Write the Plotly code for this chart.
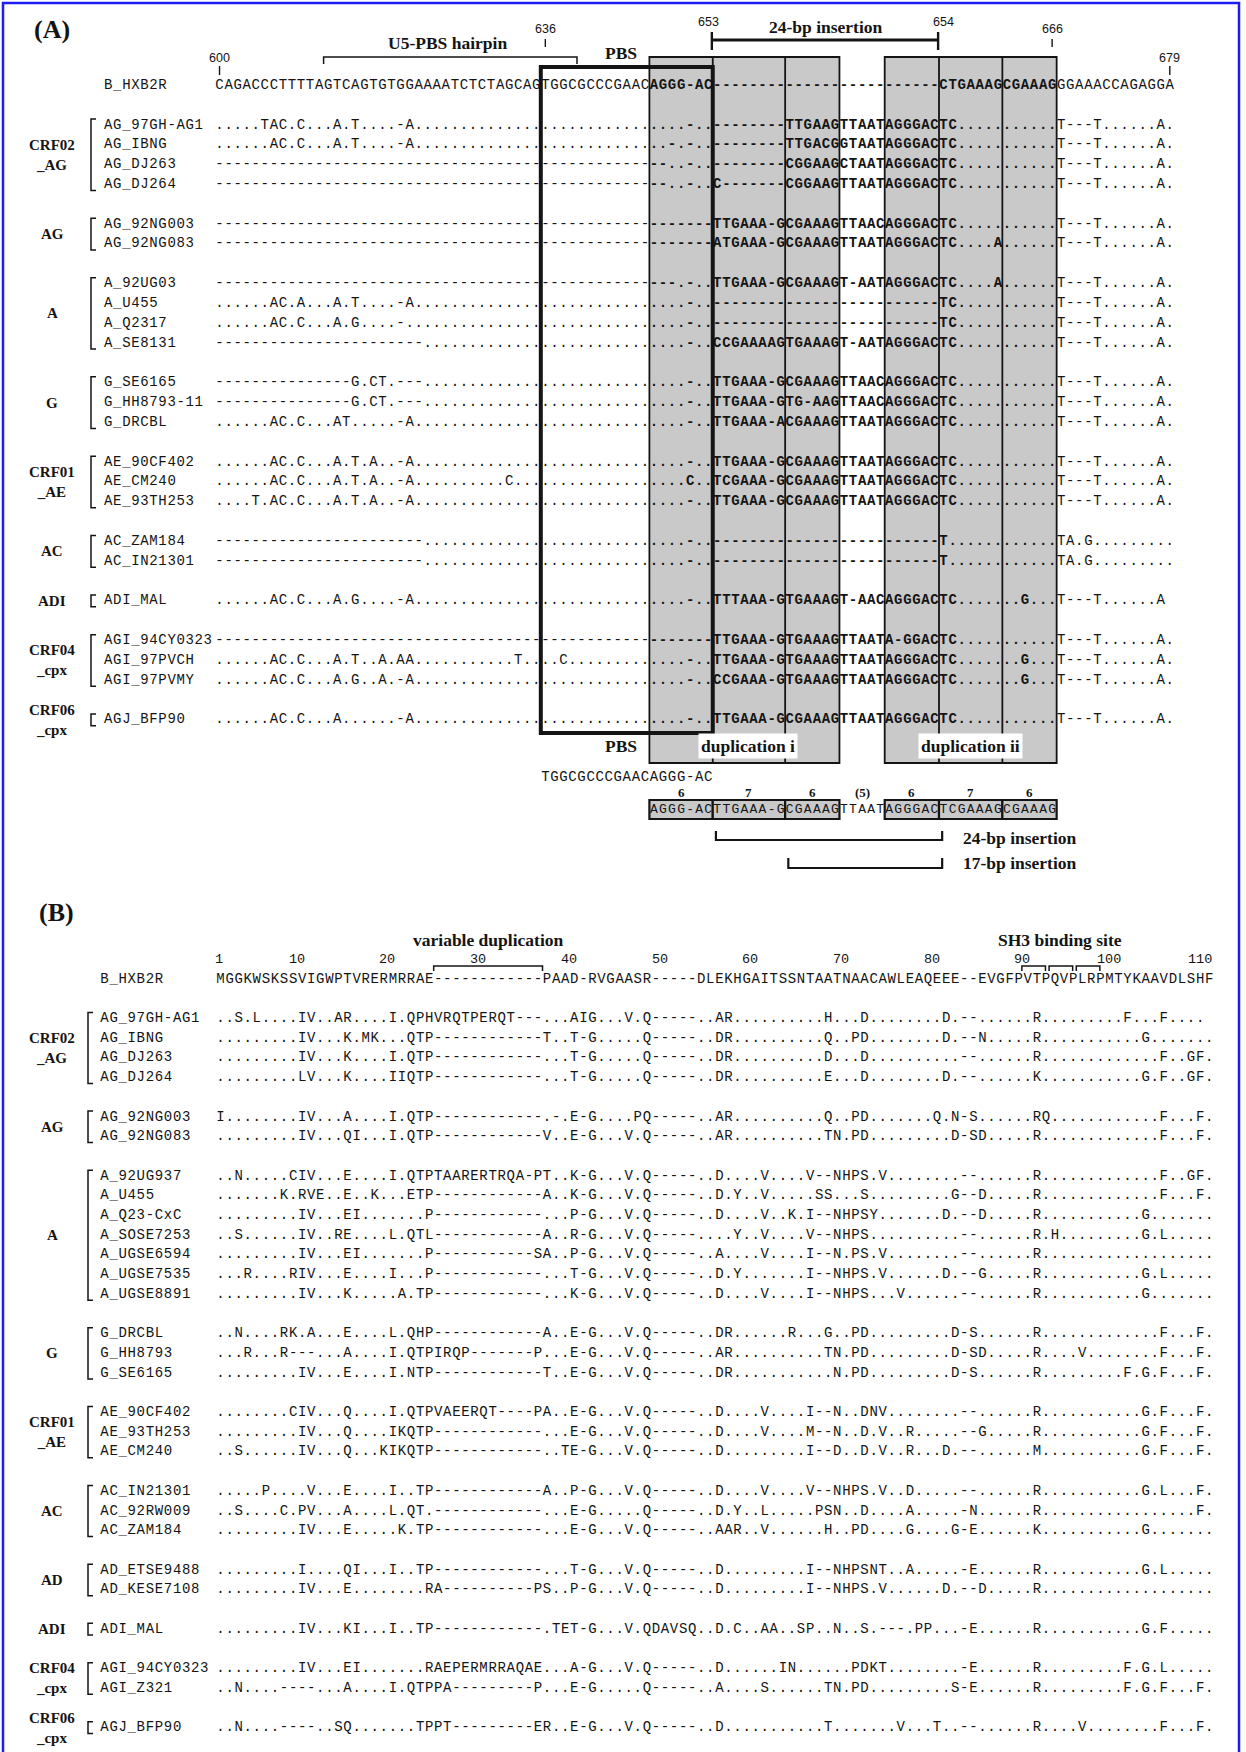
import plotly.graph_objects as go

FIG_W, FIG_H = 1246, 1752

# Page geometry of the two alignment grids (pixels): left edge of column 0,
# column pitch, centre of the first strain row and row pitch.
A_X0, A_DX = 215.0, 9.05
A_Y0, A_DY = 125.0, 19.83
B_X0, B_DX = 216.0, 9.07
B_Y0, B_DY = 1018.5, 19.7

MONO = "Liberation Mono"
SERIF = "Liberation Serif"
SANS = "Liberation Sans"
INK = "#141414"
GREY = "#c9c9c9"
FRAME_BLUE = "#1d1df2"

# ---------------------------------------------------------------------------
# (A) 5' leader nucleotide alignment, HXB2 positions 600-679
# ---------------------------------------------------------------------------
REF_NAME = "B_HXB2R"
A_START_POS = 600
A_REF = ("CAGACCCTTTTAGTCAGTGTGGAAAATCTCTAGCAG",
         "TGGCGCCCGAACAGGG-AC",
         "-------------------------",
         "CTGAAAGCGAAAGGGAAACCAGAGGA")

A_GROUP_LABELS = ["CRF02<br>_AG", "AG", "A", "G", "CRF01<br>_AE", "AC", "ADI",
                  "CRF04<br>_cpx", "CRF06<br>_cpx"]
A_GROUP_SIZES = [4, 2, 4, 3, 3, 2, 1, 3, 1]
A_NAMES = ["AG_97GH-AG1", "AG_IBNG", "AG_DJ263", "AG_DJ264",
           "AG_92NG003", "AG_92NG083",
           "A_92UG03", "A_U455", "A_Q2317", "A_SE8131",
           "G_SE6165", "G_HH8793-11", "G_DRCBL",
           "AE_90CF402", "AE_CM240", "AE_93TH253",
           "AC_ZAM184", "AC_IN21301",
           "ADI_MAL",
           "AGI_94CY0323", "AGI_97PVCH", "AGI_97PVMY",
           "AGJ_BFP90"]
A_SEQS = [
    (".....TAC.C...A.T....-A..............", "................-..", "--------TTGAAGTTAATAGGGAC", "TC...........T---T......A."),
    ("......AC.C...A.T....-A..............", "..............-.-..", "--------TTGACGGTAATAGGGAC", "TC...........T---T......A."),
    ("------------------------------------", "--------------..-..", "--------CGGAAGCTAATAGGGAC", "TC...........T---T......A."),
    ("------------------------------------", "--------------..-..", "C-------CGGAAGTTAATAGGGAC", "TC...........T---T......A."),
    ("------------------------------------", "-------------------", "TTGAAA-GCGAAAGTTAACAGGGAC", "TC...........T---T......A."),
    ("------------------------------------", "-------------------", "ATGAAA-GCGAAAGTTAATAGGGAC", "TC....A......T---T......A."),
    ("------------------------------------", "---------------.-..", "TTGAAA-GCGAAAGT-AATAGGGAC", "TC....A......T---T......A."),
    ("......AC.A...A.T....-A..............", "................-..", "-------------------------", "TC...........T---T......A."),
    ("......AC.C...A.G....-...............", "................-..", "-------------------------", "TC...........T---T......A."),
    ("-----------------------.............", "................-..", "CCGAAAAGTGAAAGT-AATAGGGAC", "TC...........T---T......A."),
    ("---------------G.CT.---.............", "................-..", "TTGAAA-GCGAAAGTTAACAGGGAC", "TC...........T---T......A."),
    ("---------------G.CT.---.............", "................-..", "TTGAAA-GTG-AAGTTAACAGGGAC", "TC...........T---T......A."),
    ("......AC.C...AT.....-A..............", "................-..", "TTGAAA-ACGAAAGTTAATAGGGAC", "TC...........T---T......A."),
    ("......AC.C...A.T.A..-A..............", "................-..", "TTGAAA-GCGAAAGTTAATAGGGAC", "TC...........T---T......A."),
    ("......AC.C...A.T.A..-A..........C...", "................C..", "TCGAAA-GCGAAAGTTAATAGGGAC", "TC...........T---T......A."),
    ("....T.AC.C...A.T.A..-A..............", "................-..", "TTGAAA-GCGAAAGTTAATAGGGAC", "TC...........T---T......A."),
    ("-----------------------.............", "................-..", "-------------------------", "T............TA.G........."),
    ("-----------------------.............", "................-..", "-------------------------", "T............TA.G........."),
    ("......AC.C...A.G....-A..............", "................-..", "TTTAAA-GTGAAAGT-AACAGGGAC", "TC.......G...T---T......A"),
    ("------------------------------------", "-------------------", "TTGAAA-GTGAAAGTTAATA-GGAC", "TC...........T---T......A."),
    ("......AC.C...A.T..A.AA...........T..", "..C.............-..", "TTGAAA-GTGAAAGTTAATAGGGAC", "TC.......G...T---T......A."),
    ("......AC.C...A.G..A.-A..............", "................-..", "CCGAAA-GTGAAAGTTAATAGGGAC", "TC.......G...T---T......A."),
    ("......AC.C...A......-A..............", "................-..", "TTGAAA-GCGAAAGTTAATAGGGAC", "TC...........T---T......A."),
]

# numbered HXB2 positions above the reference and their label tier
A_TICK_POS = [600, 636, 653, 654, 666, 679]
A_TICK_TIER = [2, 1, 0, 0, 1, 2]

# duplication scheme below the alignment (starts at HXB2 648)
SCHEME_START_POS = 648
SCHEME_UNITS = ["AGGG-AC", "TTGAAA-G", "CGAAAG", "TTAAT", "AGGGAC", "TCGAAAG", "CGAAAG"]
SCHEME_BOXED = [True, True, True, False, True, True, True]
DUP_I_UNITS = (0, 2)
DUP_II_UNITS = (4, 6)
INSERTIONS = [(1, 4), (2, 4)]          # unit ranges of the 24-bp and 17-bp insertions
PBS_POS = (636, 653)
HAIRPIN_POS = (612, 640)

# ---------------------------------------------------------------------------
# (B) Nef N-terminal protein alignment
# ---------------------------------------------------------------------------
B_REF = ("MGGKWSKSSVIGWPTVRERM", "RRAE------------", "PAAD-RVGAASR-----",
         "DLEKHGAITSSNTAATNAACAWLEAQEEE", "--EVGFPVTPQVPLRPMTYKAAVDLSHF")
B_TICKS = [1, 10, 20, 30, 40, 50, 60, 70, 80, 90, 100, 110]
SH3_MOTIF = "PVTPQVPLRP"

B_GROUP_LABELS = ["CRF02<br>_AG", "AG", "A", "G", "CRF01<br>_AE", "AC", "AD", "ADI",
                  "CRF04<br>_cpx", "CRF06<br>_cpx"]
B_GROUP_SIZES = [4, 2, 7, 3, 3, 3, 2, 1, 2, 1]
B_NAMES = ["AG_97GH-AG1", "AG_IBNG", "AG_DJ263", "AG_DJ264",
           "AG_92NG003", "AG_92NG083",
           "A_92UG937", "A_U455", "A_Q23-CxC", "A_SOSE7253", "A_UGSE6594", "A_UGSE7535", "A_UGSE8891",
           "G_DRCBL", "G_HH8793", "G_SE6165",
           "AE_90CF402", "AE_93TH253", "AE_CM240",
           "AC_IN21301", "AC_92RW009", "AC_ZAM184",
           "AD_ETSE9488", "AD_KESE7108",
           "ADI_MAL",
           "AGI_94CY0323", "AGI_Z321",
           "AGJ_BFP90"]
B_SEQS = [
    ("..S.L....IV..AR....I", ".QPHVRQTPERQT---", "...AIG...V.Q-----", "..AR..........H...D........D.", "--......R.........F...F...."),
    (".........IV...K.MK..", ".QTP------------", "T..T-G.....Q-----", "..DR..........Q..PD........D.", "--N.....R...........G......."),
    (".........IV...K....I", ".QTP------------", "...T-G.....Q-----", "..DR..........D...D..........", "--......R.............F..GF."),
    (".........LV...K....I", "IQTP------------", "...T-G.....Q-----", "..DR..........E...D........D.", "--......K...........G.F..GF."),
    ("I........IV...A....I", ".QTP------------", ".-.E-G....PQ-----", "..AR..........Q..PD.......Q.N", "-S......RQ............F...F."),
    (".........IV...QI...I", ".QTP------------", "V..E-G...V.Q-----", "..AR..........TN.PD.........D", "-SD.....R.............F...F."),
    ("..N.....CIV...E....I", ".QTPTAARERTRQA-P", "T..K-G...V.Q-----", "..D....V....V--NHPS.V........", "--......R.............F..GF."),
    (".......K.RVE..E..K..", ".ETP------------", "A..K-G...V.Q-----", "..D.Y..V.....SS...S.........G", "--D.....R.............F...F."),
    (".........IV...EI....", "...P------------", "...P-G...V.Q-----", "..D....V..K.I--NHPSY.......D.", "--D.....R...........G......."),
    ("..S......IV..RE....L", ".QTL------------", "A..R-G...V.Q-----", "....Y..V....V--NHPS..........", "--......R.H.........G.L....."),
    (".........IV...EI....", "...P-----------S", "A..P-G...V.Q-----", "..A....V....I--N.PS.V........", "--......R..................."),
    ("...R....RIV...E....I", "...P------------", "...T-G...V.Q-----", "..D.Y.......I--NHPS.V......D.", "--G.....R...........G.L....."),
    (".........IV...K.....", "A.TP------------", "...K-G...V.Q-----", "..D....V....I--NHPS...V......", "--......R...........G......."),
    ("..N....RK.A...E....L", ".QHP------------", "A..E-G...V.Q-----", "..DR......R...G..PD.........D", "-S......R.............F...F."),
    ("...R...R---...A....I", ".QTPIRQP-------P", "...E-G...V.Q-----", "..AR..........TN.PD.........D", "-SD.....R....V........F...F."),
    (".........IV...E....I", ".NTP------------", "T..E-G...V.Q-----", "..DR...........N.PD.........D", "-S......R.........F.G.F...F."),
    ("........CIV...Q....I", ".QTPVAEERQT----P", "A..E-G...V.Q-----", "..D....V....I--N..DNV........", "--......R...........G.F...F."),
    (".........IV...Q....I", "KQTP------------", "...E-G...V.Q-----", "..D....V....M--N..D.V..R.....", "--G.....R...........G.F...F."),
    ("..S......IV...Q...KI", "KQTP------------", "..TE-G...V.Q-----", "..D.........I--D..D.V..R...D.", "--......M...........G.F...F."),
    (".....P....V...E....I", "..TP------------", "A..P-G...V.Q-----", "..D....V....V--NHPS.V..D.....", "--......R...........G.L...F."),
    ("..S....C.PV...A....L", ".QT.------------", "...E-G.....Q-----", "..D.Y..L.....PSN..D....A.....", "-N......R.................F."),
    (".........IV...E.....", "K.TP------------", "...E-G...V.Q-----", "..AAR..V......H..PD....G....G", "-E......K...........G......."),
    (".........I....QI...I", "..TP------------", "...T-G...V.Q-----", "..D.........I--NHPSNT..A.....", "-E......R...........G.L....."),
    (".........IV...E.....", "...RA----------P", "S..P-G...V.Q-----", "..D.........I--NHPS.V......D.", "--D.....R..................."),
    (".........IV...KI...I", "..TP------------", ".TET-G...V.QDAVSQ", "..D.C..AA..SP..N..S.---.PP...", "-E......R...........G.F....."),
    (".........IV...EI....", "...RAEPERMRRAQAE", "...A-G...V.Q-----", "..D......IN......PDKT........", "-E......R.........F.G.L....."),
    ("..N....----...A....I", ".QTPPA---------P", "...E-G.....Q-----", "..A....S......TN.PD.........S", "-E......R.........F.G.F...F."),
    ("..N....----..SQ.....", "..TPPT---------E", "R..E-G...V.Q-----", "..D...........T.......V...T..", "--......R....V........F...F."),
]


# ---------------------------------------------------------------------------
def check_rows(ref, names, seqs):
    bad = []
    if len(names) != len(seqs):
        bad.append(f"{len(names)} names vs {len(seqs)} rows")
    for name, segs in zip(names, seqs):
        for i, (seg, rseg) in enumerate(zip(segs, ref)):
            last = i == len(ref) - 1
            if len(seg) != len(rseg) and not (last and len(seg) < len(rseg)):
                bad.append(f"{name} seg{i}: {len(seg)} vs {len(rseg)}")
    if bad:
        raise ValueError("; ".join(bad))


check_rows(A_REF, A_NAMES, A_SEQS)
check_rows(B_REF, B_NAMES, B_SEQS)


def row_layout(sizes):
    rows, spans, k = [], [], 0
    for n in sizes:
        rows.extend(range(k, k + n))
        spans.append((k, k + n - 1))
        k += n + 1
    return rows, spans


A_ROWS, A_SPANS = row_layout(A_GROUP_SIZES)
B_ROWS, B_SPANS = row_layout(B_GROUP_SIZES)
A_REF_FULL = "".join(A_REF)
B_REF_FULL = "".join(B_REF)


def pos_to_col(pos):
    n = A_START_POS
    for c, ch in enumerate(A_REF_FULL):
        if ch != "-":
            if n == pos:
                return c
            n += 1
    raise ValueError(pos)


def a_x(px): return (px - A_X0) / A_DX
def a_y(py): return (py - A_Y0) / A_DY
def b_x(px): return (px - B_X0) / B_DX
def b_y(py): return (py - B_Y0) / B_DY


REF_A = ("x", "y")
REF_B = ("x2", "y2")

shapes, annotations = [], []


def seg(x0, y0, x1, y1, ref, width=1.8, color=INK):
    shapes.append(dict(type="line", x0=x0, y0=y0, x1=x1, y1=y1, xref=ref[0], yref=ref[1],
                       line=dict(color=color, width=width), layer="below"))


def poly(pts, ref, width=1.8):
    d = "M " + " L ".join(f"{x:.4f},{y:.4f}" for x, y in pts)
    shapes.append(dict(type="path", path=d, xref=ref[0], yref=ref[1],
                       line=dict(color=INK, width=width), layer="below"))


def rect(x0, y0, x1, y1, ref, fill=None, width=1.8):
    shapes.append(dict(type="rect", x0=x0, y0=y0, x1=x1, y1=y1, xref=ref[0], yref=ref[1],
                       fillcolor=fill if fill else "rgba(0,0,0,0)",
                       line=dict(color=INK, width=width), layer="below"))


def label(text, x, y, ref, size, bold=True, family=SERIF, xanchor="center", bg=None, pad=1):
    a = dict(text=f"<b>{text}</b>" if bold else text, x=x, y=y, xref=ref[0], yref=ref[1],
             showarrow=False, xanchor=xanchor, yanchor="middle", borderpad=pad,
             font=dict(family=family, size=size, color=INK))
    if bg:
        a["bgcolor"] = bg
    annotations.append(a)


def chars(store, text, col0, row, split=None):
    for i, ch in enumerate(text):
        if ch == " ":
            continue
        c = col0 + i
        key = 1 if (split and split[0] <= c <= split[1]) else 0
        xs, ys, ts = store[key]
        xs.append(c + 0.5)
        ys.append(row)
        ts.append(ch)


# ---------------------------- panel A --------------------------------------
A_NAME_COL = a_x(103.7)
unit_cols = [pos_to_col(SCHEME_START_POS)]
for u in SCHEME_UNITS:
    unit_cols.append(unit_cols[-1] + len(u))
BOLD_SPAN = (unit_cols[0], unit_cols[-1] - 1)

a_text = [([], [], []), ([], [], [])]
chars(a_text, REF_NAME, A_NAME_COL, -2)
chars(a_text, A_REF_FULL, 0, -2, BOLD_SPAN)
for name, segs, k in zip(A_NAMES, A_SEQS, A_ROWS):
    chars(a_text, name, A_NAME_COL, k)
    chars(a_text, "".join(segs), 0, k, BOLD_SPAN)

# grey duplication boxes and dividers
g_top, g_bot = a_y(57), a_y(763)
for lo, hi in (DUP_I_UNITS, DUP_II_UNITS):
    rect(unit_cols[lo], g_top, unit_cols[hi + 1], g_bot, REF_A, fill=GREY, width=1.8)
    for u in range(lo + 1, hi + 1):
        seg(unit_cols[u], g_top, unit_cols[u], g_bot, REF_A, width=1.8)

# PBS frame
pbs_c0, pbs_c1 = pos_to_col(PBS_POS[0]), pos_to_col(PBS_POS[1]) + 1
rect(pbs_c0, a_y(67), pbs_c1, a_y(733), REF_A, width=4)
label("PBS", (pbs_c0 + pbs_c1) / 2 - 0.6, a_y(53), REF_A, 17.5)
label("PBS", (pbs_c0 + pbs_c1) / 2 - 0.6, a_y(746), REF_A, 17.5)
label("duplication i", (unit_cols[DUP_I_UNITS[0]] + unit_cols[DUP_I_UNITS[1] + 1]) / 2 + 0.4,
      a_y(746), REF_A, 17.5, bg="white", pad=2)
label("duplication ii", (unit_cols[DUP_II_UNITS[0]] + unit_cols[DUP_II_UNITS[1] + 1]) / 2,
      a_y(746), REF_A, 17.5, bg="white", pad=2)

# U5-PBS hairpin bracket
h0, h1 = pos_to_col(HAIRPIN_POS[0]), pos_to_col(HAIRPIN_POS[1])
poly([(h0, a_y(64)), (h0, a_y(57)), (h1, a_y(57)), (h1, a_y(64))], REF_A, width=1.5)
label("U5-PBS hairpin", a_x(447), a_y(43), REF_A, 17.5)

# 24-bp insertion bracket on top
ins_lo, ins_hi = INSERTIONS[0]
ins_nt = [len("".join(SCHEME_UNITS[lo:hi + 1]).replace("-", "")) for lo, hi in INSERTIONS]
t0, t1 = unit_cols[ins_lo], unit_cols[ins_hi + 1]
seg(t0 - 0.1, a_y(32), t0 - 0.1, a_y(50), REF_A, width=2.4)
seg(t1 - 0.1, a_y(32), t1 - 0.1, a_y(50), REF_A, width=2.4)
seg(t0 - 0.1, a_y(40), t1 - 0.1, a_y(40), REF_A, width=2.8)
label(f"{ins_nt[0]}-bp insertion", (t0 + t1) / 2, a_y(27), REF_A, 17.5)

# numbered positions
TIER_LABEL_Y = {0: 22, 1: 29, 2: 58}
TIER_TICK_Y = {1: (39, 47), 2: (66, 75)}
for pos, tier in zip(A_TICK_POS, A_TICK_TIER):
    c = pos_to_col(pos) + 0.5
    label(str(pos), c, a_y(TIER_LABEL_Y[tier]), REF_A, 12.5, bold=False, family=SANS)
    if tier in TIER_TICK_Y:
        y0, y1 = TIER_TICK_Y[tier]
        seg(c, a_y(y0), c, a_y(y1), REF_A, width=1.4)

# duplication scheme underneath
chars(a_text, A_REF[1], pbs_c0, a_y(777))
scheme_text = [([], [], []), ([], [], [])]
for u, (unit, boxed) in enumerate(zip(SCHEME_UNITS, SCHEME_BOXED)):
    c0, c1 = unit_cols[u], unit_cols[u + 1]
    if boxed:
        rect(c0, a_y(800), c1, a_y(819), REF_A, fill=GREY, width=2.2)
    chars(scheme_text, unit, c0, a_y(810))
    nt = len(unit.replace("-", ""))
    label(str(nt) if boxed else f"({nt})", (c0 + c1) / 2, a_y(792), REF_A, 13)

for (lo, hi), nt, yl, yt, ylab in zip(INSERTIONS, ins_nt, (840, 868), (831, 858), (838, 863)):
    x0, x1 = unit_cols[lo] + 0.35, unit_cols[hi + 1] + 0.35
    poly([(x0, a_y(yt)), (x0, a_y(yl)), (x1, a_y(yl)), (x1, a_y(yt))], REF_A, width=2.2)
    label(f"{nt}-bp insertion", a_x(961), a_y(ylab), REF_A, 17.5, xanchor="left")

# group labels and brackets
for lab, (k0, k1) in zip(A_GROUP_LABELS, A_SPANS):
    label(lab, a_x(52), (k0 + k1) / 2, REF_A, 15)
    xl, xs = a_x(91), a_x(96)
    poly([(xs, k0 - 0.3), (xl, k0 - 0.3), (xl, k1 + 0.3), (xs, k1 + 0.3)], REF_A, width=1.5)

# ---------------------------- panel B --------------------------------------
B_NAME_COL = b_x(100)
b_text = [([], [], []), ([], [], [])]
chars(b_text, REF_NAME, B_NAME_COL, -2)
chars(b_text, B_REF_FULL, 0, -2)
for name, segs, k in zip(B_NAMES, B_SEQS, B_ROWS):
    chars(b_text, name, B_NAME_COL, k)
    chars(b_text, "".join(segs), 0, k)

for n in B_TICKS:
    label(str(n), n, b_y(959), REF_B, 13.5, bold=False, family=MONO, xanchor="right")

# variable duplication: the long gap run in the reference
gap0 = B_REF_FULL.index("-" * 12)
gap1 = gap0
while B_REF_FULL[gap1] == "-":
    gap1 += 1
poly([(gap0, b_y(971)), (gap0, b_y(966)), (gap1, b_y(966)), (gap1, b_y(971))], REF_B, width=1.5)
label("variable duplication", (gap0 + gap1) / 2, b_y(940), REF_B, 17.5)

# SH3 binding site: PxxP repeats
m0 = B_REF_FULL.index(SH3_MOTIF)
prolines = [m0 + j for j, ch in enumerate(SH3_MOTIF) if ch == "P"]
for p, q in zip(prolines[:-1], prolines[1:]):
    poly([(p + 0.85, b_y(971)), (p + 0.85, b_y(966)), (q + 0.45, b_y(966)), (q + 0.45, b_y(971))],
         REF_B, width=1.5)
label("SH3 binding site", (prolines[0] + prolines[-1] + 1) / 2, b_y(940), REF_B, 17.5)

for lab, (k0, k1) in zip(B_GROUP_LABELS, B_SPANS):
    label(lab, b_x(52), (k0 + k1) / 2, REF_B, 15)
    xl, xs = b_x(88), b_x(93)
    poly([(xs, k0 - 0.3), (xl, k0 - 0.3), (xl, k1 + 0.3), (xs, k1 + 0.3)], REF_B, width=1.5)

# panel letters and page frame
for letter, px, py in (("(A)", 52, 29), ("(B)", 56, 912)):
    annotations.append(dict(text=f"<b>{letter}</b>", x=px / FIG_W, y=1 - py / FIG_H,
                            xref="paper", yref="paper", xanchor="center", yanchor="middle",
                            showarrow=False, font=dict(family=SERIF, size=26, color=INK)))
shapes.append(dict(type="rect", xref="paper", yref="paper", x0=3 / FIG_W, x1=1239 / FIG_W,
                   y0=-0.01, y1=1 - 3 / FIG_H, line=dict(color=FRAME_BLUE, width=2.5),
                   fillcolor="rgba(0,0,0,0)", layer="above"))

# ---------------------------- figure ---------------------------------------
fig = go.Figure()


def text_trace(store, xa, ya, size, weight="normal"):
    xs, ys, ts = store
    return go.Scatter(x=xs, y=ys, text=ts, mode="text", xaxis=xa, yaxis=ya,
                      textposition="middle center", hoverinfo="skip", cliponaxis=False,
                      textfont=dict(family=MONO, size=size, color=INK, weight=weight))


fig.add_trace(text_trace(a_text[0], "x", "y", 14))
fig.add_trace(text_trace(a_text[1], "x", "y", 14, "bold"))
fig.add_trace(text_trace(scheme_text[0], "x", "y", 13))
fig.add_trace(text_trace(b_text[0], "x2", "y2", 14))

axis_common = dict(visible=False, fixedrange=True, showgrid=False, zeroline=False)
fig.update_layout(
    width=FIG_W, height=FIG_H,
    margin=dict(l=0, r=0, t=0, b=0),
    paper_bgcolor="white", plot_bgcolor="rgba(0,0,0,0)",
    showlegend=False,
    xaxis=dict(domain=[0, 1], range=[a_x(0), a_x(FIG_W)], anchor="y", **axis_common),
    yaxis=dict(domain=[0, 1], range=[a_y(FIG_H), a_y(0)], anchor="x", **axis_common),
    xaxis2=dict(domain=[0, 1], range=[b_x(0), b_x(FIG_W)], anchor="y2", **axis_common),
    yaxis2=dict(domain=[0, 1], range=[b_y(FIG_H), b_y(0)], anchor="x2", **axis_common),
    shapes=shapes,
    annotations=annotations,
)

fig.write_html("out.html")
